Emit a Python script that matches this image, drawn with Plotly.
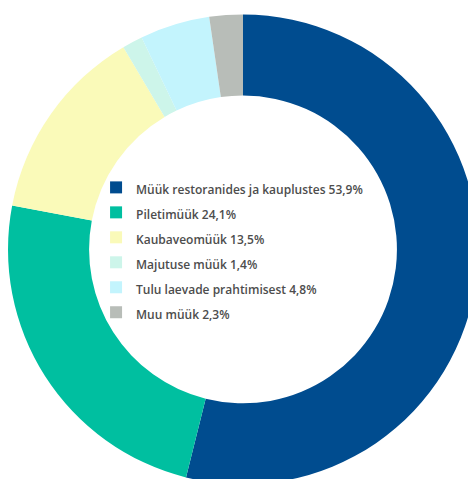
import plotly.graph_objects as go

labels = ["Müük restoranides ja kauplustes 53,9%", "Piletimüük 24,1%", "Kaubaveomüük 13,5%",
          "Majutuse müük 1,4%", "Tulu laevade prahtimisest 4,8%", "Muu müük 2,3%"]
values = [53.9, 24.1, 13.5, 1.4, 4.8, 2.3]
colors = ["#004c8f", "#00bfa0", "#fafab9", "#cdf5ea", "#c3f4fd", "#b8bdb8"]

legend_labels = ["<span style='font-size:12px;font-weight:600'>%s</span>" % t for t in labels]

fig = go.Figure(go.Pie(
    labels=legend_labels, values=values, hole=0.655, sort=False, direction="clockwise",
    rotation=0, marker=dict(colors=colors, line=dict(width=0)), textinfo="none",
    domain=dict(x=[0.0, 0.9874], y=[0.004, 0.988]),
))
fig.update_layout(
    width=476, height=479, margin=dict(l=0, r=0, t=0, b=0),
    paper_bgcolor="white",
    legend=dict(x=0.185, y=0.662, xanchor="left", yanchor="top",
                font=dict(family="Open Sans", size=16.9, color="#4d4d4d", weight=600),
                bgcolor="rgba(0,0,0,0)", itemwidth=30, tracegroupgap=0),
)
fig.write_html("out.html")
